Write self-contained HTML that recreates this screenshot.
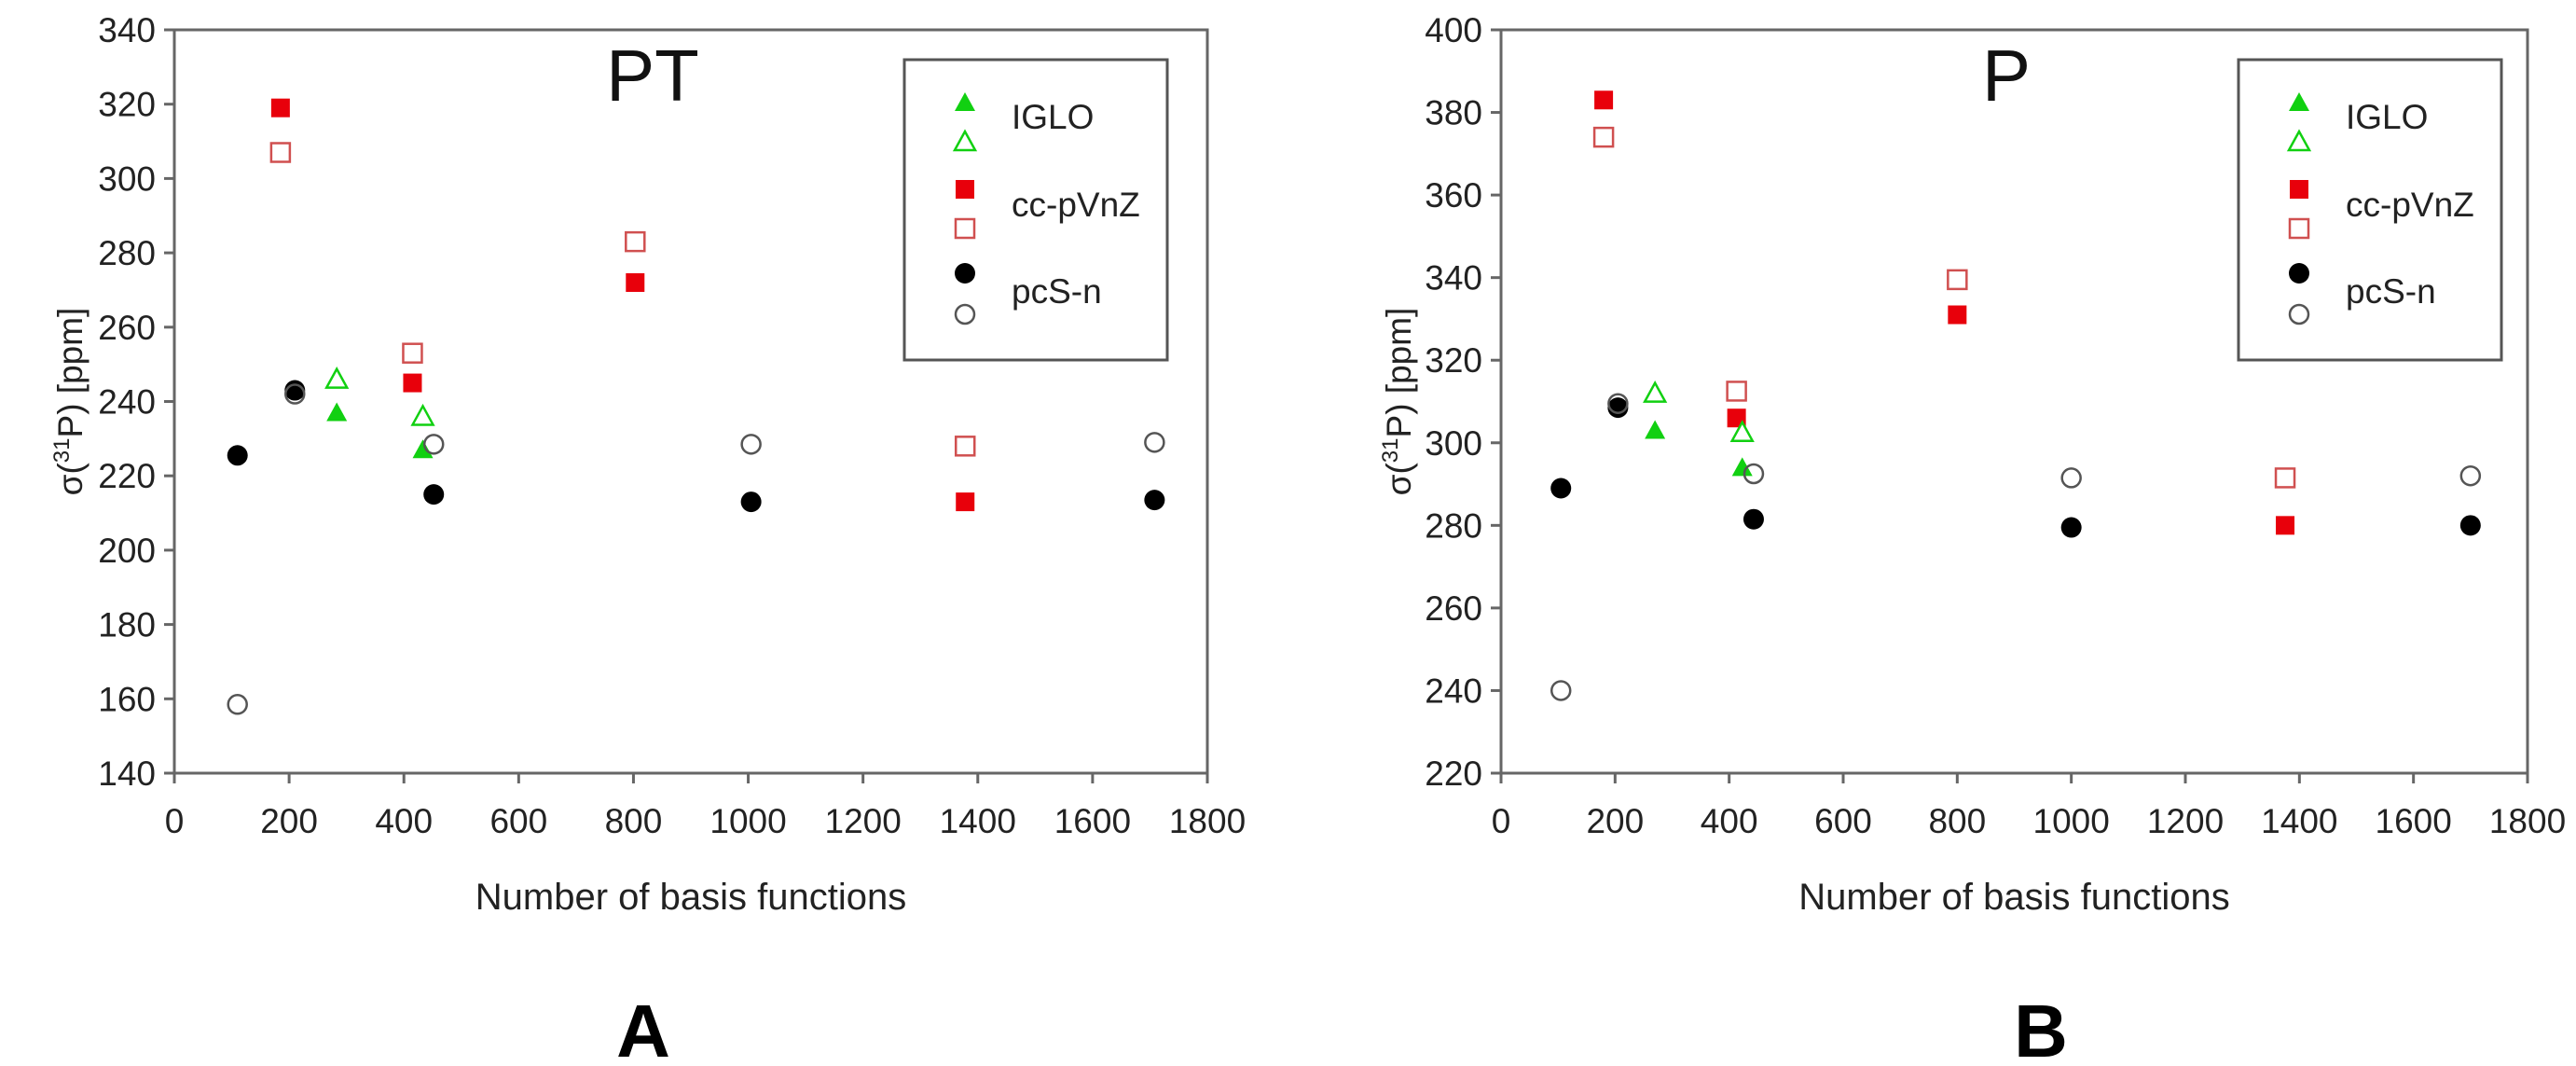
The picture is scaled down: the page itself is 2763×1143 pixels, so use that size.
<!DOCTYPE html>
<html><head><meta charset="utf-8"><style>
body{margin:0;background:#fff}
svg{display:block;font-family:"Liberation Sans",Arial,sans-serif}
</style></head><body>
<svg id="c" width="2763" height="1143" viewBox="0 0 2763 1143"></svg>
<script>
const xTicks=[0,200,400,600,800,1000,1200,1400,1600,1800];
const yTicksA=[140,160,180,200,220,240,260,280,300,320,340];
const yTicksB=[220,240,260,280,300,320,340,360,380,400];
const A_sqFill_x=[185,415,803,1378];const A_sqFill_y=[319,245,272,213];
const A_sqOpen_x=[185,415,803,1378];const A_sqOpen_y=[307,253,283,228];
const A_triFill_x=[283,433];const A_triFill_y=[237,227];
const A_triOpen_x=[283,433];const A_triOpen_y=[246,236];
const A_cirFill_x=[110,210,452,1005,1708];const A_cirFill_y=[225.5,243,215,213,213.5];
const A_cirOpen_x=[110,210,452,1005,1708];const A_cirOpen_y=[158.5,242,228.5,228.5,229];
const B_sqFill_x=[180,413,800,1375];const B_sqFill_y=[383,306,331,280];
const B_sqOpen_x=[180,413,800,1375];const B_sqOpen_y=[374,312.5,339.5,291.5];
const B_triFill_x=[270,423];const B_triFill_y=[303,294];
const B_triOpen_x=[270,423];const B_triOpen_y=[312,302.5];
const B_cirFill_x=[105,205,443,1000,1700];const B_cirFill_y=[289,308.5,281.5,279.5,280];
const B_cirOpen_x=[105,205,443,1000,1700];const B_cirOpen_y=[240,309.5,292.5,291.5,292];

const svg=document.getElementById('c');const NS='http://www.w3.org/2000/svg';
function el(t,a,txt){const e=document.createElementNS(NS,t);for(const k in a)e.setAttribute(k,a[k]);if(txt!==undefined)e.textContent=txt;svg.appendChild(e);return e;}
function marker(type,fill,cx,cy){
  const red='#e8000b',green='#11d011';let e;
  if(type==='sq'){e=el('rect',{x:cx-10,y:cy-10,width:20,height:20,fill:fill?red:'#fff',stroke:fill?red:'#d05050','stroke-width':fill?0:2.5});}
  else if(type==='tri'){e=el('polygon',{points:`${cx},${cy-11} ${cx-11},${cy+9} ${cx+11},${cy+9}`,fill:fill?green:'#fff',stroke:green,'stroke-width':fill?0:2.5});}
  else{e=el('circle',{cx:cx,cy:cy,r:fill?11:10,fill:fill?'#000':'#fff',stroke:fill?'#000':'#555','stroke-width':fill?0:2.5,'fill-opacity':fill?1:0});}
  return e;
}
function panel(p){
  const X=v=>p.x0+(v-0)/1800*(p.x1-p.x0);
  const Y=v=>p.y1-(v-p.ymin)/(p.ymax-p.ymin)*(p.y1-p.y0);
  let e=el('rect',{x:p.x0,y:p.y0,width:p.x1-p.x0,height:p.y1-p.y0,fill:'none',stroke:'#666','stroke-width':3});
  
  xTicks.forEach(v=>{
    e=el('line',{x1:X(v),x2:X(v),y1:p.y1,y2:p.y1+11,stroke:'#666','stroke-width':3});
    
    e=el('text',{x:X(v),y:p.y1+64,'text-anchor':'middle','font-size':37,fill:'#222'},v);
    
  });
  p.yt.forEach(v=>{
    e=el('line',{x1:p.x0-11,x2:p.x0,y1:Y(v),y2:Y(v),stroke:'#666','stroke-width':3});
    
    e=el('text',{x:p.x0-20,y:Y(v)+13,'text-anchor':'end','font-size':37,fill:'#222'},v);
    
  });
  const d=p.d;
  [['sq',1,d.sqOpen_x,d.sqOpen_y],['sq',0,d.sqOpen_x,d.sqOpen_y],['sq',1,d.sqFill_x,d.sqFill_y],
   ['tri',0,d.triOpen_x,d.triOpen_y],['tri',1,d.triFill_x,d.triFill_y],
   ['cir',1,d.cirFill_x,d.cirFill_y],['cir',0,d.cirOpen_x,d.cirOpen_y]].forEach(([t,f,xs,ys],k)=>{
    if(k===0)return;
    xs.forEach((xv,i)=>{const m=marker(t,f,X(xv),Y(ys[i]));
      
      });
  });
  // legend
  e=el('rect',{x:p.lx,y:64,width:282,height:322,fill:'#fff',stroke:'#555','stroke-width':3});
  
  const mx=p.lx+65,tx=p.lx+115;
  [['tri',1,110],['tri',0,152],['sq',1,203],['sq',0,245],['cir',1,293],['cir',0,337]].forEach(([t,f,yy])=>{
    const m=marker(t,f,mx,yy);});
  [['IGLO',138],['cc-pVnZ',232],['pcS-n',325]].forEach(([s,yy])=>{
    e=el('text',{x:tx,y:yy,'font-size':37,fill:'#222'},s);
    });
  e=el('text',{x:p.tx,y:108,'text-anchor':'middle','font-size':78,fill:'#111'},p.title);
  
  const cy=(p.y0+p.y1)/2;
  e=el('text',{x:p.ya,y:cy,'text-anchor':'middle','font-size':37,fill:'#222',transform:`rotate(-90 ${p.ya} ${cy})`});
  e.innerHTML='σ(<tspan dy="-14" font-size="24">31</tspan><tspan dy="14">P) [ppm]</tspan>';
  
  e=el('text',{x:(p.x0+p.x1)/2,y:975,'text-anchor':'middle','font-size':40,fill:'#222'},'Number of basis functions');
  
  e=el('text',{x:p.lab,y:1133,'text-anchor':'middle','font-size':80,'font-weight':'bold',fill:'#000'},p.letter);
  
}
panel({id:'a',x0:187,x1:1295,y0:32,y1:829,ymin:140,ymax:340,yt:yTicksA,lx:970,tx:700,ya:88,lab:690,title:'PT',letter:'A',
 d:{sqFill_x:A_sqFill_x,sqFill_y:A_sqFill_y,sqOpen_x:A_sqOpen_x,sqOpen_y:A_sqOpen_y,triFill_x:A_triFill_x,triFill_y:A_triFill_y,triOpen_x:A_triOpen_x,triOpen_y:A_triOpen_y,cirFill_x:A_cirFill_x,cirFill_y:A_cirFill_y,cirOpen_x:A_cirOpen_x,cirOpen_y:A_cirOpen_y}});
panel({id:'b',x0:1610,x1:2711,y0:32,y1:829,ymin:220,ymax:400,yt:yTicksB,lx:2401,tx:2152,ya:1513,lab:2189,title:'P',letter:'B',
 d:{sqFill_x:B_sqFill_x,sqFill_y:B_sqFill_y,sqOpen_x:B_sqOpen_x,sqOpen_y:B_sqOpen_y,triFill_x:B_triFill_x,triFill_y:B_triFill_y,triOpen_x:B_triOpen_x,triOpen_y:B_triOpen_y,cirFill_x:B_cirFill_x,cirFill_y:B_cirFill_y,cirOpen_x:B_cirOpen_x,cirOpen_y:B_cirOpen_y}});
</script>
</body></html>
